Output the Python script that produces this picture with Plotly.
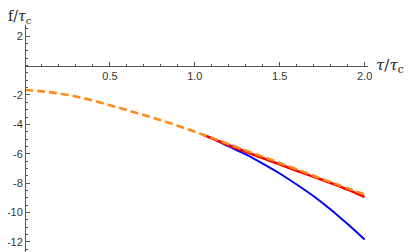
import plotly.graph_objects as go

# data
x_orange = [0.0, 0.1, 0.2, 0.3, 0.4, 0.5, 0.6, 0.7, 0.8, 0.9, 1.0, 1.1, 1.2, 1.3, 1.4, 1.5, 1.6, 1.7, 1.8, 1.9, 2.0]
y_orange = [-1.66, -1.75, -1.9, -2.1, -2.38, -2.7, -3.03, -3.37, -3.72, -4.1, -4.5, -4.92, -5.35, -5.78, -6.2, -6.63, -7.06, -7.5, -7.93, -8.35, -8.78]

x_branch = [1.05, 1.1, 1.2, 1.3, 1.4, 1.5, 1.6, 1.7, 1.8, 1.9, 2.0]
y_red = [-4.72, -4.95, -5.42, -5.87, -6.3, -6.73, -7.16, -7.58, -8.0, -8.45, -8.95]
y_blue = [-4.72, -4.95, -5.5, -6.05, -6.68, -7.35, -8.1, -8.9, -9.8, -10.8, -11.85]

x_ticks = [0.5, 1.0, 1.5, 2.0]
x_tick_labels = ["0.5", "1.0", "1.5", "2.0"]
y_ticks = [2, -2, -4, -6, -8, -10, -12]
y_tick_labels = ["2", "-2", "-4", "-6", "-8", "-10", "-12"]

x_range = [0, 2.02]
y_range = [-12.7, 2.77]

fig = go.Figure()
fig.add_trace(go.Scatter(x=x_branch, y=y_blue, mode="lines",
                         line=dict(color="#0000FF", width=2, shape="spline"), showlegend=False))
fig.add_trace(go.Scatter(x=x_branch, y=y_red, mode="lines",
                         line=dict(color="#FF0000", width=2.6, shape="spline"), showlegend=False))
fig.add_trace(go.Scatter(x=x_orange, y=y_orange, mode="lines",
                         line=dict(color="#FF8C1A", width=2.6, dash="8px,4px", shape="spline"),
                         showlegend=False))

zero_pos = (0 - y_range[0]) / (y_range[1] - y_range[0])

# page body has an 8px margin, so the figure is offset by 8px
fig.update_layout(
    width=409, height=244,
    margin=dict(l=17, r=49, t=17, b=0, autoexpand=False),
    plot_bgcolor="white", paper_bgcolor="white",
    font=dict(family="Liberation Sans, Arial, sans-serif", size=11, color="#333333"),
    xaxis=dict(range=x_range, anchor="free", position=zero_pos, automargin=False,
               showgrid=False, zeroline=False,
               showline=True, linecolor="#555555", linewidth=1,
               ticks="inside", ticklen=4, tickcolor="#555555",
               tickvals=x_ticks, ticktext=x_tick_labels,
               minor=dict(dtick=0.1, tick0=0, ticks="inside", ticklen=2, tickcolor="#555555"),
               ),
    yaxis=dict(range=y_range, anchor="free", position=0, automargin=False,
               showgrid=False, zeroline=False,
               showline=True, linecolor="#555555", linewidth=1,
               ticks="inside", ticklen=4, tickcolor="#555555",
               tickvals=y_ticks, ticktext=y_tick_labels,
               minor=dict(dtick=0.5, tick0=0, ticks="inside", ticklen=2, tickcolor="#555555"),
               ),
    annotations=[
        dict(text="f/<i>τ</i><sub>c</sub>", xref="paper", yref="paper",
             x=0, y=1, xshift=-19, yshift=-3, xanchor="left", yanchor="bottom",
             showarrow=False, font=dict(family="DejaVu Serif, serif", size=14, color="#222222")),
        dict(text="<i>τ</i>/<i>τ</i><sub>c</sub>", xref="paper", yref="paper",
             x=1, y=zero_pos, xshift=6, yshift=0, xanchor="left", yanchor="middle",
             showarrow=False, font=dict(family="DejaVu Serif, serif", size=15, color="#222222")),
    ],
)

fig.write_html("out.html")
